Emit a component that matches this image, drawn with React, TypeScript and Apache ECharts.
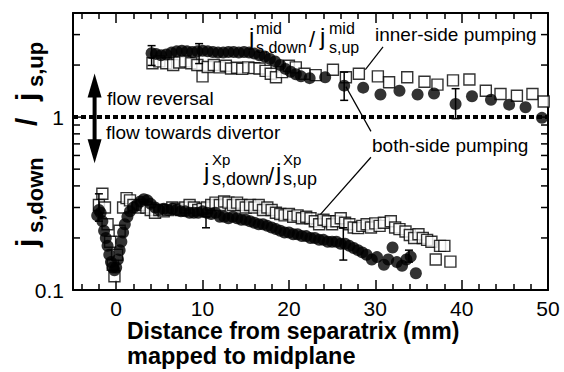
import React, { useEffect, useRef } from "react";
import * as echarts from "echarts";

const FONT = "'Liberation Sans', Arial, Helvetica, sans-serif";

const X_MIN = -5;
const X_MAX = 50;
const Y_MIN = 0.1;
const Y_MAX = 4;
const Y_LABELS = [0.1, 1];
const Y_MAJOR_TICKS = [1];
const Y_MINOR_TICKS = [0.2, 0.3, 0.4, 0.5, 0.6, 0.7, 0.8, 0.9, 2, 3];

// j_s,down / j_s,up at the midplane, both-side pumping (filled circles)
const midBothX = [4.1, 4.6, 5.2, 5.8, 6.4, 7.0, 7.6, 8.2, 8.8, 9.4, 10.0, 10.6, 11.2, 11.8, 12.4, 13.0, 13.6, 14.2, 14.8, 15.4, 16.0, 16.6, 17.2, 17.8, 18.4, 19.0, 19.6, 20.2, 20.8, 21.4, 22.4, 24.2, 26.4, 28.6, 30.6, 32.8, 34.9, 36.8, 39.3, 41.2, 43.4, 45.5, 47.4, 49.3];
const midBothY = [2.34, 2.32, 2.28, 2.30, 2.36, 2.40, 2.42, 2.40, 2.38, 2.40, 2.42, 2.40, 2.38, 2.36, 2.36, 2.38, 2.38, 2.36, 2.38, 2.36, 2.33, 2.28, 2.24, 2.17, 2.10, 2.00, 1.90, 1.83, 1.77, 1.72, 1.68, 1.70, 1.52, 1.48, 1.35, 1.42, 1.35, 1.37, 1.19, 1.32, 1.26, 1.18, 1.14, 0.99];

// midplane, inner-side pumping (open squares)
const midInnerX = [4.2, 5.0, 5.8, 6.6, 7.3, 8.0, 8.7, 9.4, 10.0, 10.6, 11.3, 12.0, 12.7, 13.3, 14.0, 14.6, 15.3, 16.0, 16.6, 17.3, 17.9, 18.5, 19.2, 20.0, 20.8, 21.8, 23.1, 25.1, 26.6, 28.1, 30.3, 31.6, 33.7, 35.7, 37.2, 39.0, 40.9, 42.8, 44.5, 46.4, 48.2, 49.5];
const midInnerY = [2.05, 2.10, 2.05, 2.00, 2.07, 2.10, 2.05, 2.00, 1.72, 1.95, 2.00, 1.94, 1.98, 1.91, 1.93, 1.90, 1.94, 1.92, 1.91, 1.85, 1.78, 1.70, 1.82, 1.98, 1.94, 1.78, 1.75, 1.88, 1.70, 1.78, 1.72, 1.59, 1.70, 1.60, 1.54, 1.63, 1.65, 1.42, 1.36, 1.33, 1.36, 1.23];

// X-point, both-side pumping (filled circles)
const xpBothX = [-2.2, -2.0, -1.8, -1.6, -1.4, -1.2, -1.0, -0.8, -0.6, -0.4, -0.2, 0.0, 0.2, 0.4, 0.6, 0.8, 1.0, 1.3, 1.6, 2.0, 2.4, 2.8, 3.2, 3.6, 4.0, 4.5, 5.0, 5.5, 6.0, 6.5, 7.0, 7.5, 8.0, 8.5, 9.0, 9.5, 10.0, 10.5, 11.0, 11.5, 12.0, 12.5, 13.0, 13.5, 14.0, 14.5, 15.0, 15.5, 16.0, 16.5, 17.0, 17.5, 18.0, 18.5, 19.0, 19.5, 20.0, 20.5, 21.0, 21.5, 22.0, 22.5, 23.0, 23.5, 24.0, 24.5, 25.0, 25.5, 26.0, 26.5, 27.0, 27.5, 28.0, 28.5, 29.0, 29.6, 30.2, 31.0, 31.5, 32.0, 32.5, 33.1, 33.6, 34.1, 34.7];
const xpBothY = [0.27, 0.29, 0.28, 0.25, 0.22, 0.20, 0.18, 0.16, 0.145, 0.135, 0.13, 0.135, 0.15, 0.17, 0.19, 0.215, 0.24, 0.265, 0.285, 0.30, 0.31, 0.325, 0.335, 0.33, 0.315, 0.30, 0.29, 0.295, 0.29, 0.295, 0.29, 0.285, 0.285, 0.28, 0.28, 0.28, 0.285, 0.28, 0.275, 0.28, 0.265, 0.265, 0.26, 0.265, 0.26, 0.255, 0.255, 0.25, 0.245, 0.24, 0.24, 0.235, 0.23, 0.225, 0.22, 0.215, 0.215, 0.21, 0.21, 0.205, 0.205, 0.20, 0.20, 0.195, 0.195, 0.19, 0.19, 0.19, 0.185, 0.185, 0.18, 0.175, 0.17, 0.165, 0.16, 0.15, 0.155, 0.14, 0.15, 0.176, 0.145, 0.138, 0.15, 0.156, 0.125];

// X-point, inner-side pumping (open squares)
const xpInnerX = [-2.0, -1.6, -1.3, -1.0, -0.7, -0.4, -0.2, 0.1, 0.4, 0.8, 1.2, 1.6, 2.0, 2.5, 3.0, 3.5, 4.0, 4.5, 5.0, 5.5, 6.0, 6.5, 7.0, 7.5, 8.0, 8.5, 9.0, 9.5, 10.0, 10.5, 11.0, 11.5, 12.0, 12.5, 13.0, 13.5, 14.0, 14.5, 15.0, 15.5, 16.0, 16.5, 17.0, 17.5, 18.0, 18.5, 19.0, 19.5, 20.0, 20.5, 21.0, 21.5, 22.0, 22.5, 23.0, 23.5, 24.0, 24.5, 25.0, 25.5, 26.0, 26.5, 27.0, 27.5, 28.0, 28.5, 29.0, 29.5, 30.0, 30.5, 31.0, 31.8, 32.3, 32.8, 33.5, 34.0, 34.5, 35.0, 35.5, 36.0, 36.5, 37.0, 37.5, 38.0, 38.7];
const xpInnerY = [0.31, 0.36, 0.30, 0.24, 0.19, 0.14, 0.12, 0.16, 0.22, 0.30, 0.34, 0.33, 0.31, 0.30, 0.31, 0.30, 0.29, 0.28, 0.29, 0.285, 0.29, 0.30, 0.295, 0.29, 0.30, 0.31, 0.30, 0.29, 0.295, 0.30, 0.31, 0.32, 0.31, 0.325, 0.32, 0.31, 0.32, 0.31, 0.30, 0.31, 0.30, 0.31, 0.29, 0.30, 0.29, 0.28, 0.275, 0.27, 0.275, 0.265, 0.27, 0.26, 0.265, 0.26, 0.25, 0.24, 0.255, 0.25, 0.24, 0.25, 0.26, 0.245, 0.24, 0.23, 0.228, 0.235, 0.24, 0.23, 0.243, 0.235, 0.245, 0.25, 0.23, 0.225, 0.218, 0.208, 0.20, 0.21, 0.20, 0.195, 0.19, 0.15, 0.18, 0.18, 0.146];

// error bars
const errX = [4.1, 9.6, 26.4, 39.3, -2.0, 10.4, 26.3, 33.9];
const errLo = [1.99, 2.04, 1.25, 0.98, 0.25, 0.229, 0.149, 0.145];
const errHi = [2.59, 2.66, 1.82, 1.46, 0.36, 0.265, 0.229, 0.17];

// leader lines of the annotations
const leadX1 = [30.9, 26.6, 29.5];
const leadY1 = [2.55, 1.5, 0.586];
const leadX2 = [28.85, 29.5, 22.4];
const leadY2 = [1.88, 0.827, 0.2325];

// flow direction double arrow and the reversal line
const ARROW_X = -2.5;
const ARROW_TOP = 1.785;
const ARROW_BOTTOM = 0.541;
const REVERSAL_Y = 1;

const zip = (a: number[], b: number[]) => a.map((v, i) => [v, b[i]]);

const T = (text: string, x: number, base: number, size: number, weight = "normal") => ({
  type: "text",
  x,
  y: base - 0.35 * size,
  silent: true,
  style: {
    text,
    fill: "#000",
    fontSize: size,
    fontFamily: FONT,
    fontWeight: weight,
    textAlign: "left",
    textVerticalAlign: "middle",
    align: "left",
    verticalAlign: "middle",
  },
});

function buildOption() {
  const axisLine = { show: true, onZero: false, lineStyle: { color: "#000", width: 2 } };
  const xAxisCommon = {
    type: "value",
    min: X_MIN,
    max: X_MAX,
    axisLine,
    axisTick: { show: true, inside: true, length: 10, lineStyle: { color: "#000", width: 1.5 } },
    minorTick: { show: true, splitNumber: 5, length: 6, lineStyle: { color: "#000", width: 1.5 } },
    splitLine: { show: false },
    minorSplitLine: { show: false },
  };
  const yAxisCommon = {
    type: "log",
    logBase: 10,
    min: Y_MIN,
    max: Y_MAX,
    axisLine,
    axisTick: { show: false },
    minorTick: { show: false },
    splitLine: { show: false },
    minorSplitLine: { show: false },
  };
  const yTicks = [...Y_MAJOR_TICKS, ...Y_MINOR_TICKS].map((v) => [X_MIN, v]);

  return {
    animation: false,
    backgroundColor: "#fff",
    grid: { left: 73, right: 16, top: 13, bottom: 82 },
    xAxis: [
      {
        ...xAxisCommon,
        position: "bottom",
        axisLabel: {
          color: "#000",
          fontSize: 21,
          fontFamily: FONT,
          margin: 8,
          formatter: (v: number) => (Math.abs(v % 10) < 1e-9 ? String(v) : ""),
        },
      },
      { ...xAxisCommon, position: "top", axisLabel: { show: false } },
    ],
    yAxis: [
      {
        ...yAxisCommon,
        position: "left",
        axisLabel: {
          color: "#000",
          fontSize: 21,
          fontFamily: FONT,
          margin: 9,
          formatter: (v: number) => {
            const hit = Y_LABELS.find((l) => Math.abs(v - l) < 1e-9 * Math.max(1, l) + 1e-12);
            return hit !== undefined ? String(hit) : "";
          },
        },
      },
      { ...yAxisCommon, position: "right", axisLabel: { show: false } },
    ],
    series: [
      {
        type: "custom",
        name: "yticks",
        silent: true,
        data: yTicks,
        renderItem: (params: any, api: any) => {
          const v = api.value(1);
          const p = api.coord([api.value(0), v]);
          const cs = params.coordSys;
          const len = Y_MAJOR_TICKS.includes(v) ? 10 : 7;
          const st = { stroke: "#000", lineWidth: 1.5 };
          return {
            type: "group",
            children: [
              { type: "line", shape: { x1: cs.x, y1: p[1], x2: cs.x + len, y2: p[1] }, style: st },
              { type: "line", shape: { x1: cs.x + cs.width - len, y1: p[1], x2: cs.x + cs.width, y2: p[1] }, style: st },
            ],
          };
        },
        z: 1,
      },
      {
        type: "line",
        name: "reversal",
        silent: true,
        symbol: "none",
        data: [
          [X_MIN, REVERSAL_Y],
          [X_MAX, REVERSAL_Y],
        ],
        lineStyle: { color: "#000", width: 4, type: [5, 3] },
        z: 2,
      },
      {
        type: "custom",
        name: "arrow",
        silent: true,
        data: [[ARROW_X, ARROW_TOP, ARROW_BOTTOM]],
        encode: { x: 0, y: [1, 2] },
        renderItem: (params: any, api: any) => {
          const t = api.coord([api.value(0), api.value(1)]);
          const b = api.coord([api.value(0), api.value(2)]);
          const hl = 24;
          const hw = 7;
          return {
            type: "group",
            children: [
              { type: "line", shape: { x1: t[0], y1: t[1] + hl - 2, x2: b[0], y2: b[1] - hl + 2 }, style: { stroke: "#000", lineWidth: 4 } },
              { type: "polygon", shape: { points: [[t[0], t[1]], [t[0] - hw, t[1] + hl], [t[0] + hw, t[1] + hl]] }, style: { fill: "#000" } },
              { type: "polygon", shape: { points: [[b[0], b[1]], [b[0] - hw, b[1] - hl], [b[0] + hw, b[1] - hl]] }, style: { fill: "#000" } },
            ],
          };
        },
        z: 3,
      },
      {
        type: "custom",
        name: "leaders",
        silent: true,
        data: leadX1.map((x, i) => [x, leadY1[i], leadX2[i], leadY2[i]]),
        encode: { x: [0, 2], y: [1, 3] },
        renderItem: (params: any, api: any) => {
          const a = api.coord([api.value(0), api.value(1)]);
          const b = api.coord([api.value(2), api.value(3)]);
          return { type: "line", shape: { x1: a[0], y1: a[1], x2: b[0], y2: b[1] }, style: { stroke: "#000", lineWidth: 1.2 } };
        },
        z: 3,
      },
      {
        type: "scatter",
        name: "mid inner-side",
        symbol: "rect",
        symbolSize: 11,
        data: zip(midInnerX, midInnerY),
        itemStyle: { color: "#fff", borderColor: "#000", borderWidth: 1.4 },
        z: 4,
      },
      {
        type: "scatter",
        name: "Xp inner-side",
        symbol: "rect",
        symbolSize: 11,
        data: zip(xpInnerX, xpInnerY),
        itemStyle: { color: "#fff", borderColor: "#000", borderWidth: 1.4 },
        z: 4,
      },
      {
        type: "custom",
        name: "errors",
        silent: true,
        data: errX.map((x, i) => [x, errLo[i], errHi[i]]),
        encode: { x: 0, y: [1, 2] },
        renderItem: (params: any, api: any) => {
          const lo = api.coord([api.value(0), api.value(1)]);
          const hi = api.coord([api.value(0), api.value(2)]);
          const c = 4;
          const st = { stroke: "#000", lineWidth: 1.5 };
          return {
            type: "group",
            children: [
              { type: "line", shape: { x1: lo[0], y1: lo[1], x2: hi[0], y2: hi[1] }, style: st },
              { type: "line", shape: { x1: lo[0] - c, y1: lo[1], x2: lo[0] + c, y2: lo[1] }, style: st },
              { type: "line", shape: { x1: hi[0] - c, y1: hi[1], x2: hi[0] + c, y2: hi[1] }, style: st },
            ],
          };
        },
        z: 5,
      },
      {
        type: "scatter",
        name: "mid both-side",
        symbol: "circle",
        symbolSize: 12,
        data: zip(midBothX, midBothY),
        itemStyle: { color: "#000" },
        z: 6,
      },
      {
        type: "scatter",
        name: "Xp both-side",
        symbol: "circle",
        symbolSize: 12,
        data: zip(xpBothX, xpBothY),
        itemStyle: { color: "#000" },
        z: 6,
      },
    ],
    graphic: [
      // midplane ratio label
      T("j", 249, 45, 24),
      T("mid", 256, 34, 16),
      T("s,down", 256, 53, 16),
      T("/", 309, 47, 22),
      T("j", 320, 45, 24),
      T("mid", 329, 34, 16),
      T("s,up", 329, 53, 16),
      // X-point ratio label
      T("j", 204, 180, 24),
      T("Xp", 212, 165, 15),
      T("s,down", 212, 185, 18),
      T("/", 268, 183, 22),
      T("j", 276, 180, 24),
      T("Xp", 283, 165, 15),
      T("s,up", 283, 185, 18),
      // annotations
      T("inner-side pumping", 375, 41, 19),
      T("both-side pumping", 372, 152, 19),
      T("flow reversal", 107, 105, 19),
      T("flow towards divertor", 106, 139, 19),
      // axis titles
      T("Distance from separatrix (mm)", 127, 339, 23, "bold"),
      T("mapped to midplane", 127, 364, 23.5, "bold"),
      {
        type: "group",
        x: 37,
        y: 247,
        rotation: Math.PI / 2,
        children: [
          T("j", 0, 0, 30, "bold"),
          T("s,down", 14, 6, 22, "bold"),
          T("/", 121, 0, 30, "bold"),
          T("j", 146, 0, 30, "bold"),
          T("s,up", 160, 6, 22, "bold"),
        ],
      },
    ],
  };
}

export default function App() {
  const ref = useRef<HTMLDivElement>(null);
  useEffect(() => {
    if (!ref.current) return;
    const chart = echarts.init(ref.current, null, { renderer: "svg" });
    chart.setOption(buildOption() as any);
    return () => chart.dispose();
  }, []);
  return (
    <div
      ref={ref}
      style={{ position: "fixed", left: 0, top: 0, width: 564, height: 372, background: "#fff" }}
    />
  );
}
